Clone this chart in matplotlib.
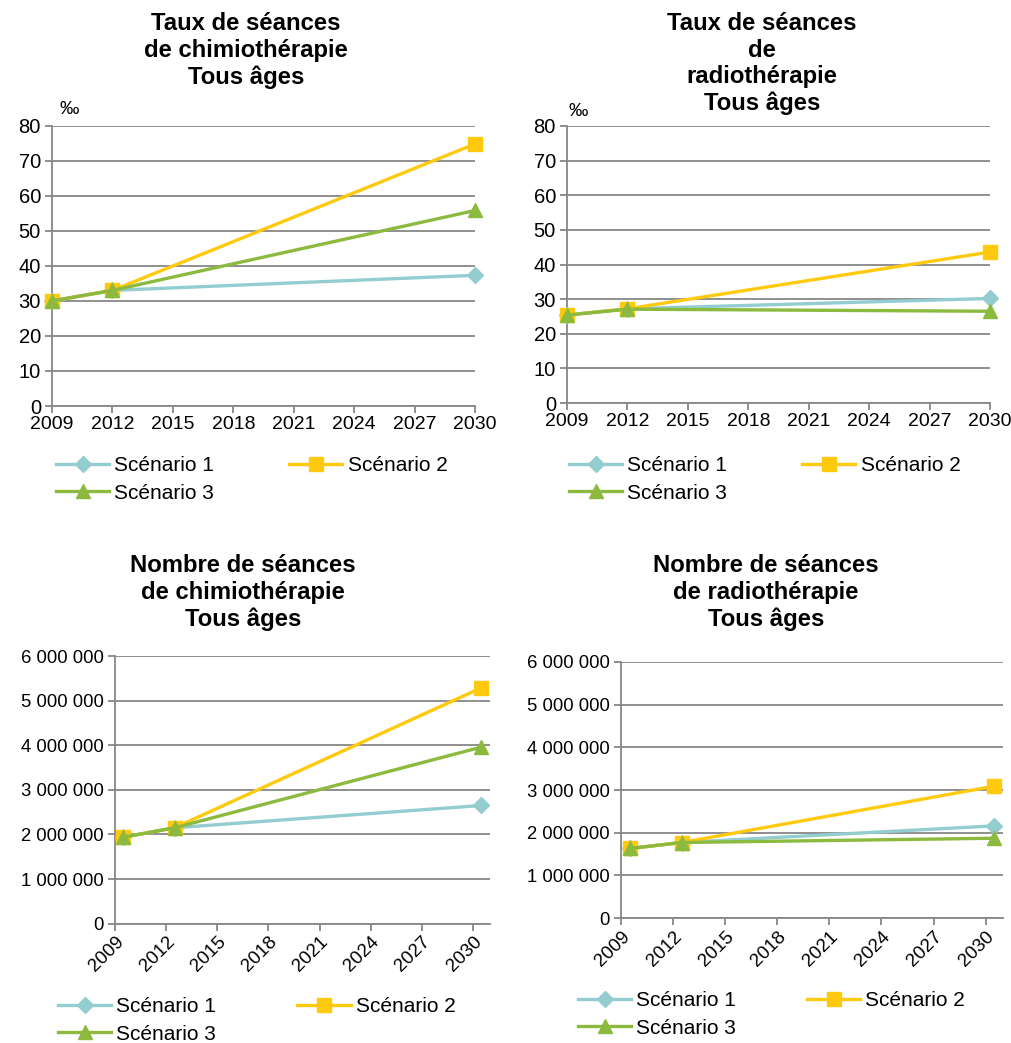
import matplotlib.pyplot as plt
from matplotlib.ticker import FuncFormatter

plt.rcParams['font.family'] = ['Liberation Sans', 'DejaVu Sans']

years = [2009, 2012, 2030]
scenarios = ['Scénario 1', 'Scénario 2', 'Scénario 3']
colors = ['#93CDD0', '#FFC90E', '#8CBA3F']
markers = ['D', 's', '^']
msizes = [8, 10, 10]

# taux (pour mille)
taux_chimio_s1 = [30.0, 33.0, 37.3]
taux_chimio_s2 = [30.0, 33.0, 74.8]
taux_chimio_s3 = [30.0, 33.0, 55.8]
taux_radio_s1 = [25.4, 27.2, 30.2]
taux_radio_s2 = [25.4, 27.2, 43.6]
taux_radio_s3 = [25.4, 27.1, 26.5]

# nombres de séances
nb_chimio_s1 = [1940000, 2150000, 2650000]
nb_chimio_s2 = [1940000, 2150000, 5290000]
nb_chimio_s3 = [1940000, 2150000, 3960000]
nb_radio_s1 = [1630000, 1770000, 2160000]
nb_radio_s2 = [1630000, 1770000, 3090000]
nb_radio_s3 = [1630000, 1770000, 1870000]

xticks = [2009, 2012, 2015, 2018, 2021, 2024, 2027, 2030]

grid_col = '#878787'

fig = plt.figure(figsize=(10.12, 10.43), dpi=100)


def space_fmt(v, pos):
    return f'{int(v):,}'.replace(',', ' ')


def make_panel(rect, series, title, title_y, title_x, ymax, ystep, bottom_row):
    ax = fig.add_axes(rect)
    # bottom charts: points sit between the year ticks
    shift = 0.5 if bottom_row else 0.0
    xs = [y + shift for y in years]
    for vals, c, m, ms, lab in zip(series, colors, markers, msizes, scenarios):
        ax.plot(xs, vals, color=c, lw=2.4, marker=m, markersize=ms,
                markeredgecolor=c, label=lab, clip_on=False, zorder=3)
    ax.set_ylim(0, ymax)
    ax.set_yticks(range(0, int(ymax) + 1, int(ystep)))
    ax.set_xlim(2009, 2031 if bottom_row else 2030)
    ax.set_xticks(xticks)
    ax.set_xticklabels([str(t) for t in xticks])
    ax.grid(axis='y', color=grid_col, lw=1.3)
    ax.set_axisbelow(True)
    for s in ['top', 'right']:
        ax.spines[s].set_visible(False)
    for s in ['left', 'bottom']:
        ax.spines[s].set_color(grid_col)
        ax.spines[s].set_linewidth(1.3)
    ax.tick_params(axis='y', length=5, color=grid_col, width=1.3, labelsize=14.5, pad=3)
    ax.tick_params(axis='x', length=5, color=grid_col, width=1.3, labelsize=14, pad=2)
    if bottom_row:
        ax.yaxis.set_major_formatter(FuncFormatter(space_fmt))
        ax.tick_params(axis='y', labelsize=13.3)
        ax.tick_params(axis='x', labelsize=13.5)
        plt.setp(ax.get_xticklabels(), rotation=45, ha='right', rotation_mode='anchor')
    fig.text(title_x, title_y, title, ha='center', va='top', fontsize=17.2,
             fontweight='bold', linespacing=1.2)
    return ax


ax1 = make_panel([0.0514, 0.6107, 0.418, 0.2688],
                 [taux_chimio_s1, taux_chimio_s2, taux_chimio_s3],
                 'Taux de séances\nde chimiothérapie\nTous âges',
                 1 - 12 / 1043, 246 / 1012, 80, 10, False)
ax2 = make_panel([0.5603, 0.6136, 0.418, 0.2656],
                 [taux_radio_s1, taux_radio_s2, taux_radio_s3],
                 'Taux de séances\nde\nradiothérapie\nTous âges',
                 1 - 12 / 1043, 762 / 1012, 80, 10, False)
ax3 = make_panel([0.1136, 0.1144, 0.3706, 0.2566],
                 [nb_chimio_s1, nb_chimio_s2, nb_chimio_s3],
                 'Nombre de séances\nde chimiothérapie\nTous âges',
                 1 - 554 / 1043, 243 / 1012, 6000000, 1000000, True)
ax4 = make_panel([0.6136, 0.1198, 0.3775, 0.2455],
                 [nb_radio_s1, nb_radio_s2, nb_radio_s3],
                 'Nombre de séances\nde radiothérapie\nTous âges',
                 1 - 554 / 1043, 766 / 1012, 6000000, 1000000, True)

fig.text(60 / 1012, 1 - 109 / 1043, '‰', fontsize=14, va='center')
fig.text(569 / 1012, 1 - 112 / 1043, '‰', fontsize=14, va='center')

# (axes, left px, top px, column spacing)
legend_pos = [(ax1, 56, 456, 3.6), (ax2, 569, 456, 3.6),
              (ax3, 58, 997, 3.9), (ax4, 578, 991, 3.4)]
for ax, lx, ly, cs in legend_pos:
    h, l = ax.get_legend_handles_labels()
    # row-wise order: S1, S2 on first row, S3 below
    h = [h[0], h[2], h[1]]
    l = [l[0], l[2], l[1]]
    fig.legend(h, l, loc='upper left',
               bbox_to_anchor=(lx / 1012, 1 - ly / 1043), ncol=2, frameon=False,
               fontsize=15, handlelength=2.55, handletextpad=0.25,
               columnspacing=cs, labelspacing=0.42, borderpad=0, borderaxespad=0)

fig.savefig('out.png', dpi=100)
